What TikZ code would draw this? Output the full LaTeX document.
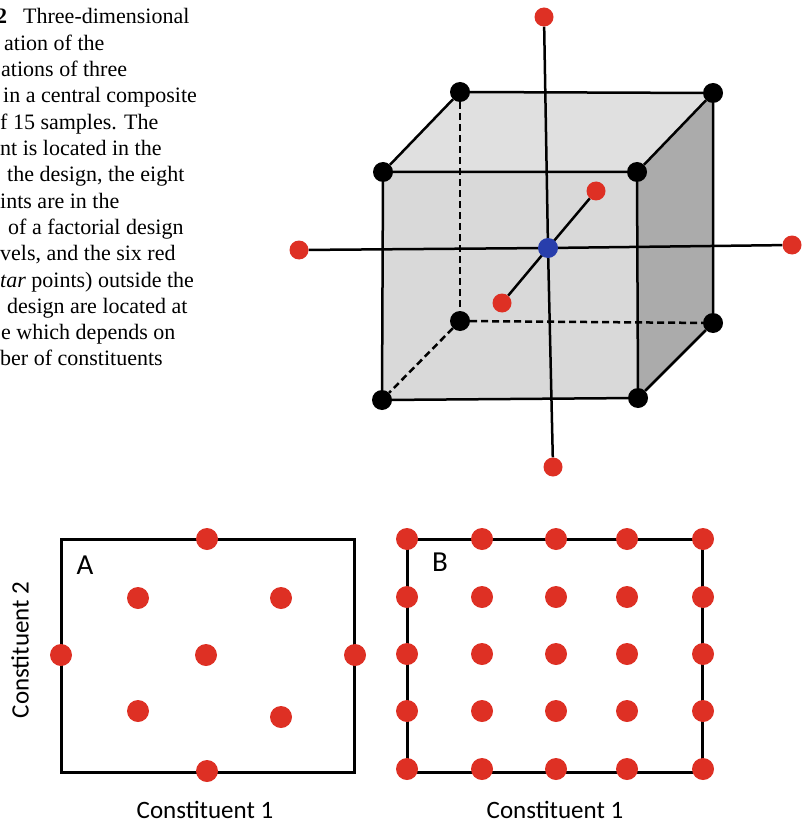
\documentclass[tikz,border=0pt]{standalone}
\usepackage{fontspec}
\setmainfont{Liberation Serif}
\newfontfamily\labelfont{Carlito}
\usetikzlibrary{backgrounds}
\definecolor{dotRed}{RGB}{222,48,36}
\definecolor{dotBlue}{RGB}{40,62,172}
\colorlet{faceTop}{gray!24}
\colorlet{faceFront}{gray!30}
\colorlet{faceSide}{gray!66}

\begin{document}
\begin{tikzpicture}[x=1pt, y=-1pt,
    capline/.style={anchor=base west, inner sep=0pt, font=\fontsize{22}{26}\selectfont},
    vertex/.style={circle, fill=black, inner sep=0pt, minimum size=20pt},
    starpt/.style={circle, fill=dotRed, inner sep=0pt, minimum size=19pt},
    hubpt/.style={circle, fill=dotBlue, inner sep=0pt, minimum size=20pt},
    sample/.style={circle, fill=dotRed, inner sep=0pt, minimum size=22pt},
    cubeEdge/.style={line width=2.5pt},
    hiddenEdge/.style={line width=2.5pt, dash pattern=on 7pt off 4pt},
    axisLine/.style={line width=2.5pt},
    frame/.style={draw, line width=3pt, inner sep=0pt},
    panelLabel/.style={inner sep=0pt, font=\labelfont\fontsize{29}{32}\selectfont},
    axisLabel/.style={inner sep=0pt, font=\labelfont\fontsize{25}{28}\selectfont}]
  \useasboundingbox (0,0) rectangle (802,826);

  % caption (cut at the left edge)
  \node[capline] (capnum) at (-4,24) {\textbf{2}};
  \foreach \x/\t [count=\i] in {23/{Three-dimensional}, 4/{ation of the}, 1/{ations of three},
      3/{in a central composite}, 0/{f 15 samples. The}, 0/{nt is located in the},
      7/{the design, the eight}, 0/{ints are in the}, 8/{of a factorial design},
      0/{vels, and the six red}, 0/{\textit{tar} points) outside the},
      7/{design are located at}, 1/{e which depends on}, 0/{ber of constituents}}
    \node[capline] (cap\i) at (\x,{24+26.3*(\i-1)}) {\t};

  % cube corners
  \node[vertex] (ftl) at (383,172) {};
  \node[vertex] (ftr) at (637,172) {};
  \node[vertex] (fbl) at (382,400) {};
  \node[vertex] (fbr) at (638,398) {};
  \node[vertex] (btl) at (460,92) {};
  \node[vertex] (btr) at (713,93) {};
  \node[vertex] (bbl) at (460,321) {};
  \node[vertex] (bbr) at (713,323) {};

  % centre and star points
  \node[hubpt] (hub) at (548,248) {};
  \node[starpt] (sTop) at (544,17) {};
  \node[starpt] (sBottom) at (553,467) {};
  \node[starpt] (sLeft) at (299,250) {};
  \node[starpt] (sRight) at (792,245) {};
  \node[starpt] (sFront) at (502,303) {};
  \node[starpt] (sBack) at (596,191) {};

  \begin{scope}[on background layer]
    \fill[faceTop] (ftl.center) -- (btl.center) -- (btr.center) -- (ftr.center) -- cycle;
    \fill[faceFront] (ftl.center) -- (ftr.center) -- (fbr.center) -- (fbl.center) -- cycle;
    \fill[faceSide] (ftr.center) -- (btr.center) -- (bbr.center) -- (fbr.center) -- cycle;
    \draw[hiddenEdge] (btl) -- (bbl);
    \draw[hiddenEdge] (bbl) -- (bbr);
    \draw[hiddenEdge] (bbl) -- (fbl);
    \draw[cubeEdge] (ftl) -- (ftr) -- (fbr) -- (fbl) -- (ftl);
    \draw[cubeEdge] (ftl) -- (btl) -- (btr) -- (ftr);
    \draw[cubeEdge] (btr) -- (bbr) -- (fbr);
    \draw[axisLine] (sTop) -- (hub.center) -- (sBottom);
    \draw[axisLine] (sLeft) -- (hub.center) -- (sRight);
    \draw[axisLine] (sFront) -- (hub.center) -- (sBack);
  \end{scope}

  % panel A
  \node[frame, minimum width=293pt, minimum height=233pt] (frameA) at (207.5,655.5) {};
  \node[panelLabel] (labA) at (85,565) {A};
  \node[sample] (aTop) at (207,539) {};
  \node[sample] (aBottom) at (207,771) {};
  \node[sample] (aLeft) at (61,655) {};
  \node[sample] (aRight) at (355,655) {};
  \node[sample] (aMid) at (206,655) {};
  \node[sample] (aUL) at (138,598) {};
  \node[sample] (aUR) at (281,598) {};
  \node[sample] (aLL) at (138,711) {};
  \node[sample] (aLR) at (281,717) {};
  \node[axisLabel] (xA) at (205,810) {Constituent 1};
  \node[axisLabel, rotate=90] (yA) at (20,650) {Constituent 2};

  % panel B
  \node[frame, minimum width=295pt, minimum height=233pt] (frameB) at (554.5,655.5) {};
  \node[panelLabel] (labB) at (440,562) {B};
  \foreach \cx [count=\c] in {407,482,556,627,703}
    \foreach \ry [count=\r] in {539,597,654,711,769}
      \node[sample] (b\c\r) at (\cx,\ry) {};
  \node[axisLabel] (xB) at (555,810) {Constituent 1};
\end{tikzpicture}
\end{document}
